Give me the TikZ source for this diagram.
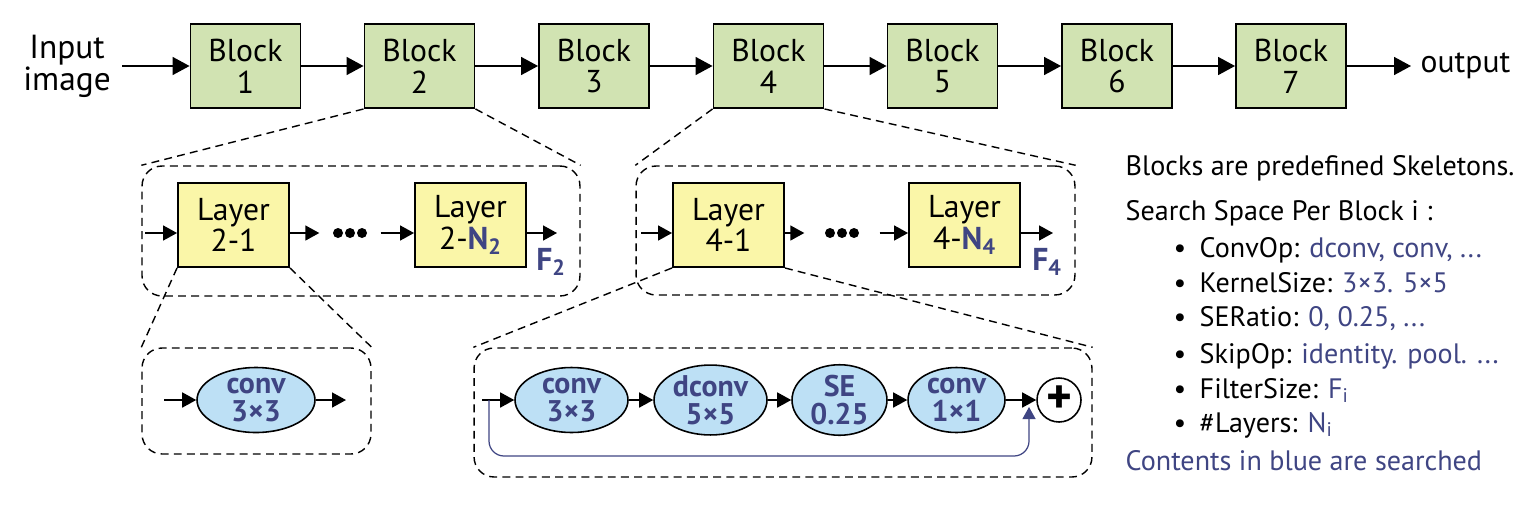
\documentclass[tikz,border=0pt]{standalone}
\usepackage{fontspec}
\setmainfont{PT Sans}
\usetikzlibrary{arrows.meta,shapes.geometric}
\definecolor{blockgreen}{HTML}{D1E3B2}
\definecolor{layeryellow}{HTML}{FAF6A8}
\definecolor{opblue}{HTML}{BDE0F5}
\definecolor{srchblue}{HTML}{3F4583}
\newcommand{\srch}[1]{{\color{srchblue}#1}}

\begin{document}
\begin{tikzpicture}[x=0.02cm,y=-0.02cm,line width=0.8pt,>=Triangle,
  block/.style={draw,line width=1.1pt,fill=blockgreen,minimum width=2.2cm,minimum height=1.68cm,inner sep=0pt,align=center,font=\fontsize{18}{18}\selectfont},
  layer/.style={block,fill=layeryellow,minimum width=2.22cm},
  op/.style={ellipse,draw,line width=0.9pt,fill=opblue,minimum width=2.26cm,minimum height=1.3cm,inner sep=0pt,align=center,text=srchblue,font=\fontsize{17}{16}\selectfont\bfseries},
  big/.style={->,line width=0.9pt,>={Triangle[length=3.4mm,width=3.6mm]}},
  flow/.style={->,line width=0.9pt,>={Triangle[length=2.8mm,width=3mm]}},
  skip/.style={->,draw=srchblue,line width=0.7pt,>={Triangle[length=2.4mm,width=2.6mm]},rounded corners=0.3cm},
  zoomline/.style={dash pattern=on 4.5pt off 3pt,line width=0.8pt},
  group/.style={draw,zoomline,rounded corners=0.4cm,inner sep=0pt},
  dots/.style={minimum width=1.2cm,inner sep=0pt},
  note/.style={anchor=base west,inner sep=0pt,font=\fontsize{16}{16}\selectfont}]
\useasboundingbox (0,0) rectangle (1540,504);
% top row of blocks
\node[align=center,inner sep=0.22cm,font=\fontsize{19}{16}\selectfont] (inp) at (67,66) {Input\\image};
\node[block] (blk1) at (245.5,66) {Block\\1};
\node[block] (blk2) at (419.5,66) {Block\\2};
\node[block] (blk3) at (594,66) {Block\\3};
\node[block] (blk4) at (768.5,66) {Block\\4};
\node[block] (blk5) at (942.5,66) {Block\\5};
\node[block] (blk6) at (1117,66) {Block\\6};
\node[block] (blk7) at (1291,66) {Block\\7};
\node[anchor=west,inner sep=0.18cm,font=\fontsize{18}{18}\selectfont] (outp) at (1411,66) {output};
\draw[big] (inp.east) -- (blk1.west);
\draw[big] (blk1) -- (blk2);
\draw[big] (blk2) -- (blk3);
\draw[big] (blk3) -- (blk4);
\draw[big] (blk4) -- (blk5);
\draw[big] (blk5) -- (blk6);
\draw[big] (blk6) -- (blk7);
\draw[big] (blk7) -- (outp.west);
% layers of block 2
\node[group,minimum width=8.76cm,minimum height=2.6cm] (grp2) at (361,231) {};
\coordinate (in2) at (145,233);
\coordinate (out2) at (557,233);
\node[layer] (l21) at (233.5,225) {Layer\\2-1};
\node[dots] (dots2) at (350,233) {};
\node[layer] (l2n) at (470.5,225) {Layer\\2-\srch{\bfseries N\textsubscript{2}}};
\node[text=srchblue,font=\fontsize{18}{18}\selectfont\bfseries] (f2) at (551,262) {F\textsubscript{2}};
\draw[flow] (in2) -- (in2 -| l21.west);
\draw[flow] (l21.east |- in2) -- (dots2.west);
\draw[flow] (dots2.east) -- (l2n.west |- in2);
\draw[flow] (l2n.east |- in2) -- (out2);
\foreach \dx in {-12,0,12}
  \fill ([xshift=\dx*0.02cm]dots2.center) circle (0.1cm);
% layers of block 4
\node[group,minimum width=8.78cm,minimum height=2.58cm] (grp4) at (855.5,230.5) {};
\coordinate (in4) at (641,233);
\coordinate (out4) at (1053,233);
\node[layer] (l41) at (728.5,225) {Layer\\4-1};
\node[dots,minimum width=1.48cm] (dots4) at (842,233) {};
\node[layer] (l4n) at (964.5,225) {Layer\\4-\srch{\bfseries N\textsubscript{4}}};
\node[text=srchblue,font=\fontsize{18}{18}\selectfont\bfseries] (f4) at (1047,262) {F\textsubscript{4}};
\draw[flow] (in4) -- (in4 -| l41.west);
\draw[flow] (l41.east |- in4) -- (dots4.west);
\draw[flow] (dots4.east) -- (l4n.west |- in4);
\draw[flow] (l4n.east |- in4) -- (out4);
\foreach \dx in {-12,0,12}
  \fill ([xshift=\dx*0.02cm]dots4.center) circle (0.1cm);
% inside layer 2-1
\node[group,minimum width=4.58cm,minimum height=2.12cm] (grp21) at (256.5,401) {};
\coordinate (in21) at (164,400);
\coordinate (out21) at (346,400);
\node[op,minimum width=2.36cm] (cv) at (256,400) {conv\\3×3};
\draw[flow] (in21) -- (cv);
\draw[flow] (cv) -- (out21);
% inside layer 4-1
\node[group,minimum width=12.36cm,minimum height=2.58cm] (grp41) at (783,412.5) {};
\coordinate (in41) at (482,400);
\node[op] (c1) at (571.5,400) {conv\\3×3};
\node[op] (c2) at (710.5,400) {dconv\\5×5};
\node[op,minimum width=1.9cm] (c3) at (839.5,400) {SE\\0.25};
\node[op,minimum width=1.94cm] (c4) at (956.5,400) {conv\\1×1};
\node[circle,draw,line width=0.9pt,minimum size=0.88cm,inner sep=0pt,font=\fontsize{28}{28}\selectfont\bfseries] (plus) at (1059,400) {+};
\draw[flow] (in41) -- (c1);
\draw[flow] (c1) -- (c2);
\draw[flow] (c2) -- (c3);
\draw[flow] (c3) -- (c4);
\draw[flow] (c4) -- (plus);
% skip connection
\coordinate (skA) at (489,400);
\coordinate (skB) at (1029,456);
\coordinate (skT) at (1029,407);
\draw[skip] (skA) -- (skA |- skB) -- (skB) -- (skT);
% zoom lines
\draw[zoomline] (blk2.south west) -- (grp2.north west);
\draw[zoomline] (blk2.south east) -- (grp2.north east);
\draw[zoomline] (blk4.south west) -- (grp4.north west);
\draw[zoomline] (blk4.south east) -- (grp4.north east);
\draw[zoomline] (l21.south west) -- (grp21.north west);
\draw[zoomline] (l21.south east) -- (grp21.north east);
\draw[zoomline] (l41.south west) -- (grp41.north west);
\draw[zoomline] (l41.south east) -- (grp41.north east);
% search space notes
\node[note] (sk) at (1125,175) {Blocks are predefined Skeletons.};
\node[note] (ss) at (1125,220) {Search Space Per Block i :};
\foreach \yy in {257,292,326,363,398,432}
  \node[note] (b\yy) at (1173,\yy) {\textbullet};
\node[note] (it1) at (1199,257) {ConvOp: \srch{dconv, conv, ...}};
\node[note] (it2) at (1199,292) {KernelSize: \srch{3×3. 5×5}};
\node[note] (it3) at (1199,326) {SERatio: \srch{0, 0.25, ...}};
\node[note] (it4) at (1199,363) {SkipOp: \srch{identity. pool. ...}};
\node[note] (it5) at (1199,398) {FilterSize: \srch{F\textsubscript{i}}};
\node[note] (it6) at (1199,432) {\#Layers: \srch{N\textsubscript{i}}};
\node[note,text=srchblue] (cb) at (1125,470) {Contents in blue are searched};
\end{tikzpicture}
\end{document}
